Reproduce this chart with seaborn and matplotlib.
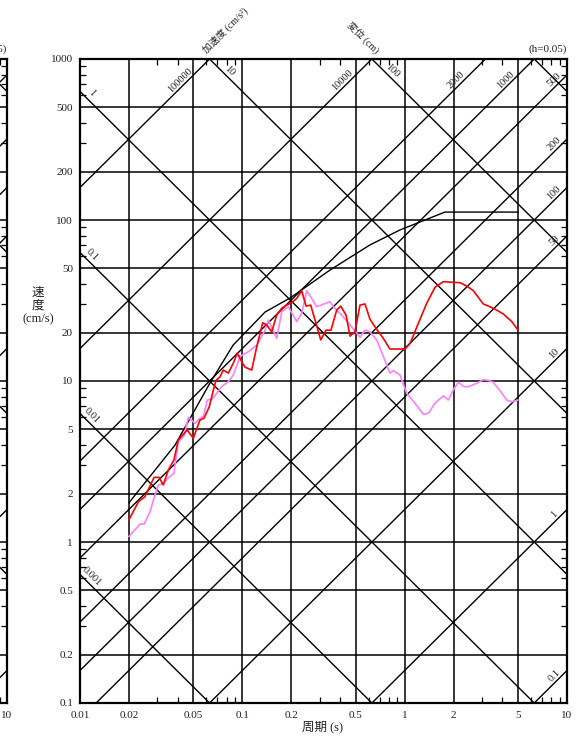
import numpy as np
import pandas as pd
import matplotlib
matplotlib.use("Agg")
import matplotlib.pyplot as plt
from matplotlib.ticker import LogLocator, NullFormatter, FixedLocator, FixedFormatter
import seaborn as sns

# ---------------- data ----------------
accel_levels = [0.1, 1, 10, 50, 100, 200, 500, 1000, 2000, 10000, 100000]   # cm/s^2
accel_labels = ["0.1", "1", "10", "50", "100", "200", "500", "1000", "2000", "10000", "100000"]
disp_levels = [0.001, 0.01, 0.1, 1, 10, 100, 1000]                          # cm
disp_labels = ["0.001", "0.01", "0.1", "1", "10", "100", None]

x_ticks = [0.01, 0.02, 0.05, 0.1, 0.2, 0.5, 1, 2, 5, 10]
x_tick_labels = ["0.01", "0.02", "0.05", "0.1", "0.2", "0.5", "1", "2", "5", "10"]
y_ticks = [0.1, 0.2, 0.5, 1, 2, 5, 10, 20, 50, 100, 200, 500, 1000]
y_tick_labels = ["0.1", "0.2", "0.5", "1", "2", "5", "10", "20", "50", "100", "200", "500", "1000"]

red_period = [0.020, 0.0229, 0.0251, 0.0286, 0.0307, 0.0326, 0.0350, 0.0379, 0.0403, 0.0458,
              0.0499, 0.0548, 0.0580, 0.0626, 0.0663, 0.0689, 0.0728, 0.0763, 0.0820, 0.0880,
              0.0931, 0.0991, 0.1038, 0.1142, 0.1227, 0.1335, 0.1413, 0.1517, 0.1629, 0.1749,
              0.1877, 0.2015, 0.2163, 0.2322, 0.2468, 0.2637, 0.2844, 0.3041, 0.3277, 0.3517,
              0.3814, 0.4036, 0.4352, 0.4607, 0.4943, 0.5305, 0.5696, 0.6113, 0.6561, 0.7387,
              0.8119, 0.914, 1.005, 1.079, 1.214, 1.367, 1.538, 1.730, 1.993, 2.193,
              2.411, 2.648, 3.050, 3.515, 4.052, 4.565, 5.0]
red_velocity = [1.37, 1.78, 1.91, 2.52, 2.52, 2.26, 2.80, 3.23, 4.30, 4.96,
                4.41, 5.72, 5.87, 6.92, 8.79, 10.1, 10.6, 11.7, 11.2, 12.9,
                14.9, 13.2, 12.2, 11.7, 16.3, 23.0, 22.3, 20.2, 25.7, 28.3,
                29.6, 30.7, 32.6, 36.4, 29.2, 29.6, 22.8, 18.0, 20.7, 20.7,
                27.6, 29.2, 25.7, 19.0, 20.2, 29.6, 30.1, 24.2, 21.7, 18.4,
                15.8, 15.8, 15.8, 17.1, 22.8, 30.4, 38.2, 41.4, 41.0, 40.8,
                38.9, 36.4, 30.1, 28.3, 26.1, 23.4, 20.7]

pink_period = [0.020, 0.0234, 0.0248, 0.0270, 0.0283, 0.0304, 0.0326, 0.0350, 0.0379, 0.0403,
               0.0437, 0.0465, 0.0511, 0.0548, 0.0575, 0.0609, 0.0653, 0.0701, 0.0746, 0.0820,
               0.0880, 0.0968, 0.1089, 0.1227, 0.1380, 0.1446, 0.1629, 0.1749, 0.1920, 0.2163,
               0.2322, 0.2493, 0.2675, 0.2871, 0.3467, 0.3632, 0.3999, 0.4607, 0.5305, 0.5696,
               0.6113, 0.6724, 0.7387, 0.8119, 0.8515, 0.935, 1.030, 1.158, 1.303, 1.399,
               1.538, 1.730, 1.858, 1.993, 2.140, 2.320, 2.466, 2.778, 3.050, 3.274,
               3.515, 3.865, 4.253, 4.565, 5.0]
pink_velocity = [1.08, 1.29, 1.29, 1.54, 1.82, 2.26, 2.32, 2.50, 2.67, 4.20,
                 4.55, 5.95, 5.46, 5.87, 6.00, 7.62, 7.73, 8.46, 9.22, 9.91,
                 10.9, 14.2, 15.2, 16.7, 20.7, 23.9, 18.4, 26.9, 28.9, 23.4,
                 26.3, 36.4, 32.6, 28.9, 31.1, 28.9, 26.3, 22.3, 18.7, 20.7,
                 20.2, 18.0, 14.2, 11.2, 11.6, 10.9, 8.39, 7.27, 6.21, 6.30,
                 7.27, 8.10, 7.62, 8.79, 9.82, 9.22, 9.22, 9.67, 10.2, 10.1,
                 9.82, 8.71, 7.62, 7.43, 7.62]

design_period = [0.020, 0.0385, 0.0632, 0.0877, 0.138, 0.197, 0.347, 0.611, 0.935, 1.77, 5.0]
design_velocity = [1.75, 4.0, 9.72, 16.7, 26.8, 32.8, 48.9, 70.0, 86.7, 112.0, 112.0]

# ---------------- style ----------------
sns.set_style("white")
plt.rcParams["font.family"] = ["Liberation Serif", "Noto Sans CJK JP", "DejaVu Sans"]
TXT = "#222222"

W, H = 578, 736
fig = plt.figure(figsize=(W / 100, H / 100), dpi=100)
ax_left_px, ax_right_px, ax_top_px, ax_bot_px = 80, 567, 59, 703
aw = (ax_right_px - ax_left_px) / W
ah = (ax_bot_px - ax_top_px) / H
ab = 1 - ax_bot_px / H
ax = fig.add_axes([ax_left_px / W, ab, aw, ah])
axL = fig.add_axes([(7 - (ax_right_px - ax_left_px)) / W, ab, aw, ah])


def draw_chart(a, line_labels=True, xlabels=x_tick_labels):
    a.set_xscale("log")
    a.set_yscale("log")
    a.set_xlim(0.01, 10)
    a.set_ylim(0.1, 1000)
    for t in x_ticks[1:-1]:
        a.axvline(t, color="black", lw=1.1, zorder=1)
    for v in y_ticks[1:-1]:
        a.axhline(v, color="black", lw=1.1, zorder=1)
    tt = np.array([1e-3, 1e2])
    for acc, lab in zip(accel_levels, accel_labels):
        a.plot(tt, acc * tt / (2 * np.pi), color="black", lw=1.0, zorder=1)
        if not line_labels:
            continue
        t_top = 2 * np.pi * 1000 / acc
        if t_top <= 10:
            xy, off = (t_top, 1000), (-29, -21)
        else:
            xy, off = (10, acc * 10 / (2 * np.pi)), (-13, -5)
        a.annotate(lab, xy=xy, xytext=off, textcoords="offset pixels", rotation=45,
                   ha="center", va="center", fontsize=7.5, color=TXT, annotation_clip=False)
    for d, lab in zip(disp_levels, disp_labels):
        a.plot(tt, 2 * np.pi * d / tt, color="black", lw=1.0, zorder=1)
        if lab is None or not line_labels:
            continue
        v_left = 2 * np.pi * d / 0.01
        if v_left <= 1000:
            xy, off = (0.01, v_left), (12, -2)
        else:
            xy, off = (2 * np.pi * d / 1000, 1000), (20, -12)
        a.annotate(lab, xy=xy, xytext=off, textcoords="offset pixels", rotation=-45,
                   ha="center", va="center", fontsize=7.5, color=TXT, annotation_clip=False)

    a.xaxis.set_major_locator(FixedLocator(x_ticks))
    a.xaxis.set_major_formatter(FixedFormatter(xlabels))
    a.yaxis.set_major_locator(FixedLocator(y_ticks))
    a.yaxis.set_major_formatter(FixedFormatter(y_tick_labels))
    a.xaxis.set_minor_locator(LogLocator(base=10, subs=(3, 4, 6, 7, 8, 9)))
    a.yaxis.set_minor_locator(LogLocator(base=10, subs=(3, 4, 6, 7, 8, 9)))
    a.xaxis.set_minor_formatter(NullFormatter())
    a.yaxis.set_minor_formatter(NullFormatter())
    a.tick_params(which="major", length=0, labelsize=8, labelcolor=TXT)
    a.tick_params(axis="x", which="major", pad=6)
    a.tick_params(axis="y", which="major", pad=5)
    a.tick_params(which="minor", direction="in", length=4, width=0.9, color="black",
                  top=True, bottom=True, left=True, right=True)
    for s in a.spines.values():
        s.set_color("black")
        s.set_linewidth(1.6)
        s.set_zorder(5)
    a.text(1.0, 1.008, "(h=0.05)", transform=a.transAxes, ha="right", va="bottom",
           fontsize=8, color=TXT)
    a.set_xlabel("")
    a.set_ylabel("")


# neighbouring chart, only its right edge is visible
draw_chart(axL, line_labels=False, xlabels=[""] * (len(x_ticks) - 1) + [x_tick_labels[-1]])
axL.tick_params(axis="y", which="major", labelleft=False)
draw_chart(ax)

design_df = pd.DataFrame({"T": design_period, "V": design_velocity})
red_df = pd.DataFrame({"T": red_period, "V": red_velocity})
pink_df = pd.DataFrame({"T": pink_period, "V": pink_velocity})

sns.lineplot(data=design_df, x="T", y="V", ax=ax, color="black", lw=1.0, sort=False,
             estimator=None, zorder=2)
sns.lineplot(data=pink_df, x="T", y="V", ax=ax, color="#ff80ff", lw=1.2, sort=False,
             estimator=None, zorder=3)
sns.lineplot(data=red_df, x="T", y="V", ax=ax, color="#ff0000", lw=1.2, sort=False,
             estimator=None, zorder=4)
ax.set_xlabel("")
ax.set_ylabel("")

# axis-type labels above the chart
ax.annotate("加速度 (cm/s²)", xy=(2 * np.pi * 1000 / 100000, 1000), xytext=(-2, 4),
            textcoords="offset pixels", rotation=45, rotation_mode="anchor",
            ha="left", va="bottom", fontsize=7, color=TXT, annotation_clip=False)
ax.annotate("変位 (cm)", xy=(2 * np.pi * 100 / 1000, 1000), xytext=(2, 4),
            textcoords="offset pixels", rotation=-45, rotation_mode="anchor",
            ha="right", va="bottom", fontsize=7, color=TXT, annotation_clip=False)

fig.text(38 / W, 1 - 306 / H, "速\n度\n(cm/s)", ha="center", va="center",
         fontsize=9, color=TXT, linespacing=1.15)
fig.text(323 / W, 1 - 727 / H, "周期 (s)", ha="center", va="center", fontsize=9, color=TXT)

fig.savefig("out.png", dpi=100)
